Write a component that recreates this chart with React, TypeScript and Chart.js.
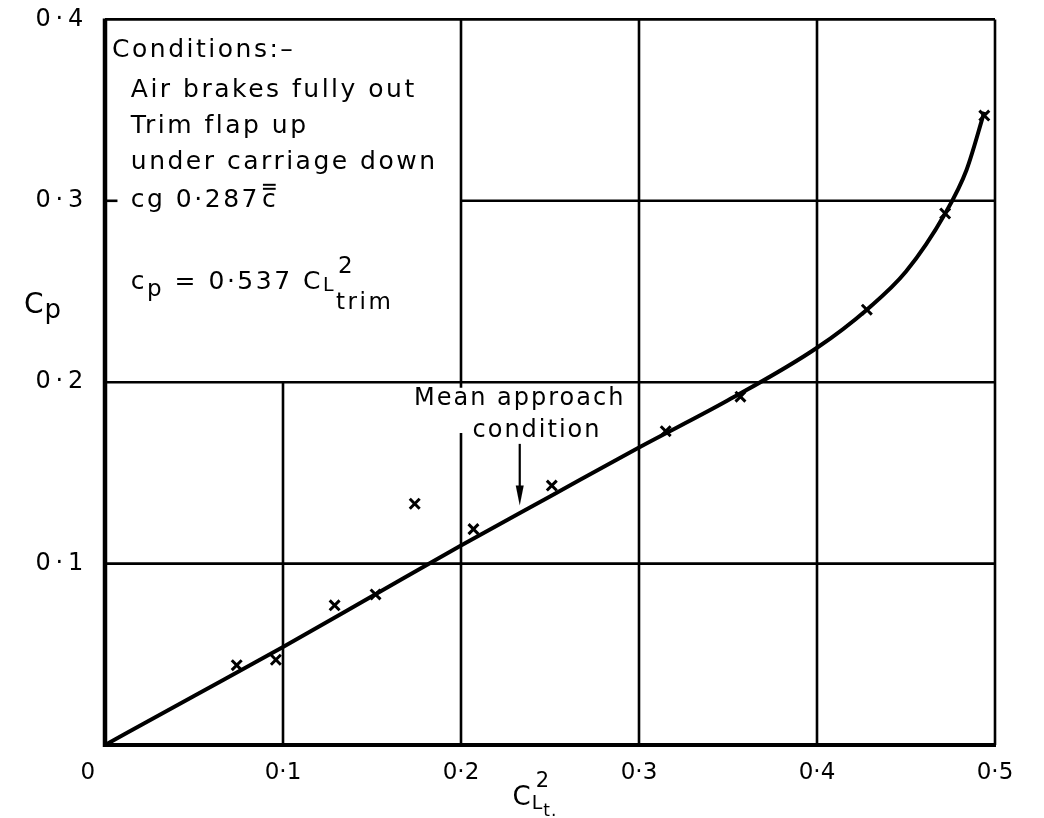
import { useEffect, useRef } from "react";
import { Chart, registerables } from "chart.js";

Chart.register(...registerables);

// Measured points (crosses)
const measuredX = [0.074, 0.096, 0.129, 0.152, 0.174, 0.207, 0.251, 0.315, 0.357, 0.428, 0.472, 0.494];
const measuredY = [0.044, 0.047, 0.077, 0.083, 0.133, 0.119, 0.143, 0.173, 0.192, 0.240, 0.293, 0.347];

// Faired curve
const curveX = [0, 0.05, 0.1, 0.15, 0.2, 0.25, 0.3, 0.35, 0.4, 0.428, 0.45, 0.472, 0.484, 0.494];
const curveY = [0, 0.027, 0.054, 0.082, 0.110, 0.137, 0.164, 0.190, 0.219, 0.240, 0.261, 0.293, 0.317, 0.349];

const xTicks = [0, 0.1, 0.2, 0.3, 0.4, 0.5];
const yTicks = [0, 0.1, 0.2, 0.3, 0.4];

const conditionLines = ["Conditions:–", "Air brakes fully out", "Trim flap up", "under carriage down", "cg 0·287"];
const annotationLines = ["Mean approach", "condition"];

const FONT = '"DejaVu Sans", "Noto Sans", sans-serif';
const fmtX = (v: number) => (v === 0 ? "0\u2003\u2002" : v.toFixed(1).replace(".", "·"));
const fmtY = (v: number) => (v === 0 ? "" : v.toFixed(1).replace(".", "\u2009·\u2009") + "\u2002\u2009");

const overlay = {
  id: "overlay",
  beforeDatasetsDraw(chart: any) {
    const { ctx, scales } = chart;
    const xs = scales.x, ys = scales.y;
    const px = (v: number) => xs.getPixelForValue(v);
    const py = (v: number) => ys.getPixelForValue(v);
    ctx.save();
    ctx.strokeStyle = "#000";
    const seg = (x0: number, y0: number, x1: number, y1: number, w: number) => {
      ctx.lineWidth = w;
      ctx.beginPath();
      ctx.moveTo(x0, y0);
      ctx.lineTo(x1, y1);
      ctx.stroke();
    };
    // vertical grid segments [x, yFrom, yTo]
    const vGrid = [[0.1, 0, 0.2], [0.2, 0, 0.172], [0.2, 0.197, 0.4], [0.3, 0, 0.4], [0.4, 0, 0.4], [0.5, 0, 0.4]];
    // horizontal grid segments [y, xFrom, xTo]
    const hGrid = [[0.1, 0, 0.5], [0.2, 0, 0.5], [0.3, 0.2, 0.5], [0.3, 0, 0.007], [0.4, 0, 0.5]];
    vGrid.forEach(([xv, a, b]) => seg(px(xv), py(a), px(xv), py(b), 2.6));
    hGrid.forEach(([yv, a, b]) => seg(px(a), py(yv), px(b), py(yv), 2.6));
    // axes
    seg(px(0), py(0) + 2, px(0), py(0.4) - 1, 4.5);
    seg(px(0) - 2, py(0), px(0.5) + 1, py(0), 4);
    ctx.restore();
  },
  afterDraw(chart: any) {
    const { ctx, scales, chartArea } = chart;
    const xs = scales.x, ys = scales.y;
    const px = (v: number) => xs.getPixelForValue(v);
    const py = (v: number) => ys.getPixelForValue(v);
    ctx.save();
    ctx.fillStyle = "#000";
    ctx.strokeStyle = "#000";
    ctx.textBaseline = "middle";
    ctx.textAlign = "left";
    const runs = (x: number, y: number, parts: [string, number, number][]) => {
      let cx = x;
      for (const [t, size, dy] of parts) {
        ctx.font = `${size}px ${FONT}`;
        ctx.fillText(t, cx, y + dy);
        cx += ctx.measureText(t).width;
      }
      return cx;
    };
    // Conditions box text
    ctx.letterSpacing = "2.5px";
    const condY = [0.383, 0.361, 0.341, 0.321, 0.3];
    ctx.font = `25px ${FONT}`;
    ctx.fillText(conditionLines[0], px(0.004), py(condY[0]));
    for (let i = 1; i < conditionLines.length; i++) {
      ctx.font = `25px ${FONT}`;
      const endX = px(0.0145) + ctx.measureText(conditionLines[i]).width;
      ctx.fillText(conditionLines[i], px(0.0145), py(condY[i]));
      if (i === conditionLines.length - 1) {
        // c with double bar
        ctx.fillText("c", endX + 2, py(condY[i]));
        const cw = ctx.measureText("c").width - 2.5;
        ctx.lineWidth = 2;
        [-16, -12].forEach((d) => {
          ctx.beginPath();
          ctx.moveTo(endX + 3, py(condY[i]) + d);
          ctx.lineTo(endX + 2 + cw, py(condY[i]) + d);
          ctx.stroke();
        });
      }
    }
    // equation c_p = 0·537 C_L^2 trim
    const ey = py(0.255);
    let ex = runs(px(0.0145), ey, [["c", 25, 0], ["p", 23, 8], [" = 0·537 ", 25, 0], ["C", 25, 0]]);
    ctx.font = `19px ${FONT}`;
    ctx.fillText("L", ex, ey + 4);
    ex += ctx.measureText("L").width;
    ctx.font = `23px ${FONT}`;
    ctx.fillText("2", ex + 2, ey - 15);
    ctx.fillText("trim", ex, ey + 21);

    // axis titles
    ctx.letterSpacing = "1px";
    runs(24, py(0.242), [["C", 28, 0], ["p", 26, 5]]);
    const tx = px(0.229);
    const tyy = chartArea.bottom + 53;
    let t2 = runs(tx, tyy, [["C", 26, 0]]);
    ctx.font = `19px ${FONT}`;
    ctx.fillText("L", t2, tyy + 6);
    const lw = ctx.measureText("L").width;
    ctx.font = `21px ${FONT}`;
    ctx.fillText("2", t2 + 4, tyy - 16);
    ctx.font = `17px ${FONT}`;
    ctx.fillText("t.", t2 + lw, tyy + 14);

    // annotation
    ctx.letterSpacing = "2px";
    ctx.font = `24px ${FONT}`;
    ctx.textAlign = "center";
    ctx.fillText(annotationLines[0], px(0.233), py(0.191));
    ctx.fillText(annotationLines[1], px(0.2427), py(0.173));
    ctx.letterSpacing = "0px";
    // arrow
    const ax = px(0.233);
    const ay0 = py(0.166), ay1 = py(0.132);
    ctx.lineWidth = 2.2;
    ctx.beginPath();
    ctx.moveTo(ax, ay0);
    ctx.lineTo(ax, ay1 - 14);
    ctx.stroke();
    ctx.beginPath();
    ctx.moveTo(ax - 4, ay1 - 20);
    ctx.lineTo(ax + 4, ay1 - 20);
    ctx.lineTo(ax, ay1);
    ctx.closePath();
    ctx.fill();
    ctx.restore();
  },
};

export default function App() {
  const ref = useRef<HTMLCanvasElement>(null);
  useEffect(() => {
    if (!ref.current) return;
    const chart = new Chart(ref.current, {
      type: "scatter",
      data: {
        datasets: [
          {
            label: "curve",
            data: curveX.map((x, i) => ({ x, y: curveY[i] })),
            showLine: true,
            borderColor: "#000",
            borderWidth: 4,
            pointRadius: 0,
            cubicInterpolationMode: "monotone",
          },
          {
            label: "measured",
            data: measuredX.map((x, i) => ({ x, y: measuredY[i] })),
            showLine: false,
            pointStyle: "crossRot",
            pointRadius: 7,
            borderColor: "#000",
            borderWidth: 3,
          },
        ],
      } as any,
      options: {
        animation: false,
        responsive: false,
        devicePixelRatio: 1,
        layout: { padding: { top: 19, right: 49, left: 0, bottom: 0 } },
        plugins: { legend: { display: false }, tooltip: { enabled: false } },
        scales: {
          x: {
            type: "linear",
            min: 0,
            max: 0.5,
            afterBuildTicks: (s: any) => {
              s.ticks = xTicks.map((v) => ({ value: v }));
            },
            afterFit: (s: any) => {
              s.height = 73;
            },
            grid: { display: false, drawTicks: false },
            border: { display: false },
            ticks: {
              padding: 14,
              color: "#000",
              font: { family: FONT, size: 23 },
              maxRotation: 0,
              callback: (v: any) => fmtX(Number(v)),
            },
          },
          y: {
            type: "linear",
            min: 0,
            max: 0.4,
            afterBuildTicks: (s: any) => {
              s.ticks = yTicks.map((v) => ({ value: v }));
            },
            afterFit: (s: any) => {
              s.width = 105;
            },
            grid: { display: false, drawTicks: false },
            border: { display: false },
            ticks: {
              padding: 5,
              color: "#000",
              font: { family: FONT, size: 24 },
              callback: (v: any) => fmtY(Number(v)),
            },
          },
        },
      },
      plugins: [overlay],
    } as any);
    return () => chart.destroy();
  }, []);
  return (
    <canvas
      ref={ref}
      width={1044}
      height={818}
      style={{ position: "absolute", left: 0, top: 0, width: 1044, height: 818, background: "#fff" }}
    />
  );
}
